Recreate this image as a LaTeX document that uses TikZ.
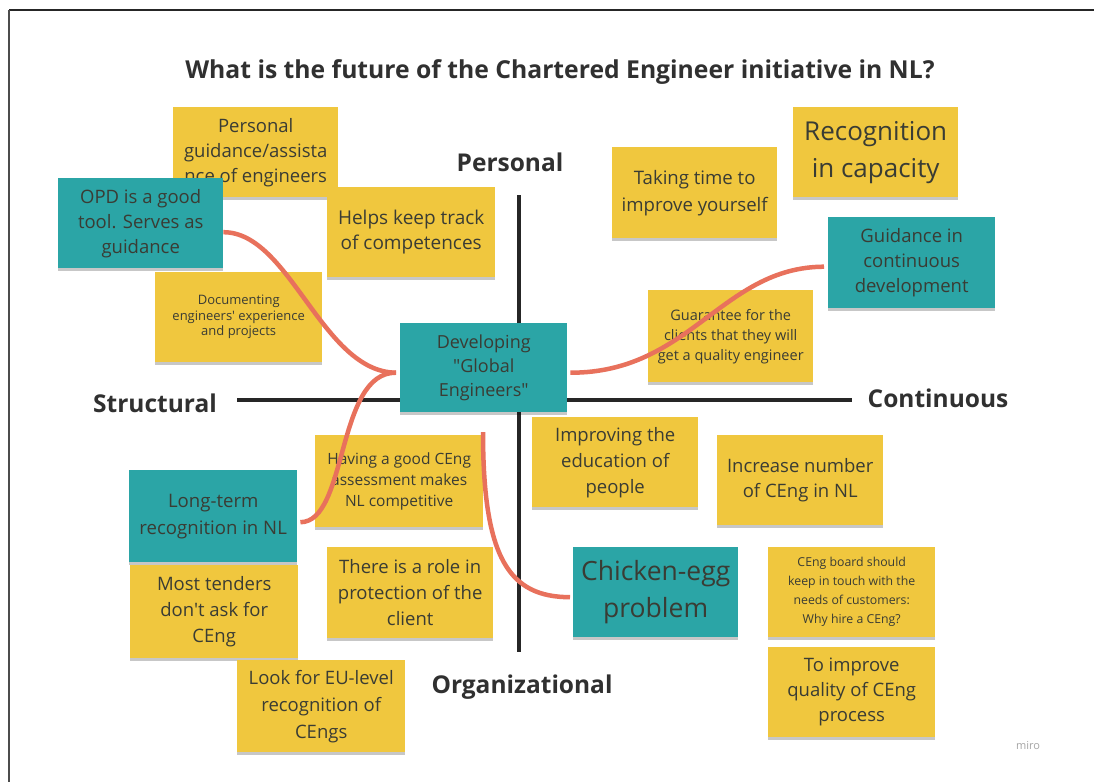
\documentclass[tikz,border=0pt]{standalone}
\usepackage{fontspec}
\setmainfont{Open Sans}
\newfontfamily\plainfont{Open Sans}
\usetikzlibrary{shadows}
\definecolor{stickyY}{RGB}{240,199,62}
\definecolor{stickyT}{RGB}{43,165,166}
\definecolor{notetext}{RGB}{58,60,52}
\definecolor{headtext}{RGB}{48,48,48}
\definecolor{curvecol}{RGB}{232,113,92}
\definecolor{axiscol}{RGB}{38,38,38}
\newcommand\fsz[2]{\fontsize{#1}{#2}\selectfont}
\begin{document}
\begin{tikzpicture}[x=1pt,y=-1pt,
  note/.style={anchor=north west, inner sep=0pt, align=center, text=notetext,
    drop shadow={shadow xshift=0pt, shadow yshift=-2.5pt, opacity=.22, fill=black}},
  ynote/.style={note, fill=stickyY},
  tnote/.style={note, fill=stickyT},
  axislabel/.style={font=\bfseries\fsz{24.5}{28}, text=headtext, inner sep=0pt},
  axisline/.style={draw=axiscol, line width=4.5pt},
  link/.style={draw=curvecol, line width=4.5pt}]
\useasboundingbox (0,0) rectangle (1094,782);
\fill[white] (0,0) rectangle (1094,782);
% frame
\draw[black!85, line width=1.5pt] (9,10) -- (1094,10);
\draw[black!70, line width=2pt] (9,10) -- (9,782);

% title
\node[font=\bfseries\fsz{24.7}{29}, text=headtext] (title) at (560,72) {What is the future of the Chartered Engineer initiative in NL?};

% axes
\coordinate (axL) at (237,400);
\coordinate (axR) at (852,400);
\coordinate (axT) at (519,195);
\coordinate (axB) at (519,652);
\draw[axisline] (axL) -- (axR);
\draw[axisline] (axT) -- (axB);

\node[axislabel] (lblP) at (510,162) {Personal};
\node[axislabel] (lblS) at (155,403) {Structural};
\node[axislabel] (lblC) at (938,398) {Continuous};
\node[axislabel] (lblO) at (522,687) {Organizational};

% notes, upper left
\node[ynote, minimum width=165pt, minimum height=90pt, font=\fsz{18.5}{25}] (pg) at (173,107) {Personal\\guidance/assista\\nce of engineers};
\node[tnote, minimum width=165pt, minimum height=90pt, font=\fsz{18.5}{25}] (opd) at (58,178) {OPD is a good\\tool. Serves as\\guidance};
\node[ynote, minimum width=168pt, minimum height=90pt, font=\fsz{19}{25}] (hk) at (327,187) {Helps keep track\\of competences};
\node[ynote, minimum width=167pt, minimum height=90pt, font=\plainfont\fsz{13}{15.5}] (doc) at (155,272) {Documenting\\engineers' experience\\and projects};

% notes, upper right
\node[ynote, minimum width=165pt, minimum height=91pt, font=\fsz{18.6}{27}] (tt) at (612,147) {Taking time to\\improve yourself};
\node[ynote, minimum width=165pt, minimum height=90pt, font=\fsz{26}{37}] (rc) at (793,107) {Recognition\\in capacity};
\node[tnote, minimum width=167pt, minimum height=91pt, font=\fsz{18.5}{25}] (gd) at (828,217) {Guidance in\\continuous\\development};
\node[ynote, minimum width=165pt, minimum height=92pt, font=\fsz{14.5}{20}] (gq) at (648,290) {Guarantee for the\\clients that they will\\get a quality engineer};

% notes, lower left
\node[ynote, minimum width=168pt, minimum height=92pt, font=\fsz{15.5}{21}] (hv) at (315,435) {Having a good CEng\\assessment makes\\NL competitive};
\node[tnote, minimum width=168pt, minimum height=92pt, font=\fsz{18.6}{27}] (lt) at (129,470) {Long-term\\recognition in NL};
\node[ynote, minimum width=168pt, minimum height=93pt, font=\plainfont\fsz{18.5}{26}] (mt) at (130,565) {Most tenders\\don't ask for\\CEng};
\node[ynote, minimum width=166pt, minimum height=91pt, font=\fsz{18.5}{26}] (rl) at (327,547) {There is a role in\\protection of the\\client};
\node[ynote, minimum width=168pt, minimum height=92pt, font=\fsz{18.5}{27}] (eu) at (237,660) {Look for EU-level\\recognition of\\CEngs};

% notes, lower right
\node[ynote, minimum width=166pt, minimum height=90pt, font=\fsz{18.5}{26}] (ie) at (532,417) {Improving the\\education of\\people};
\node[ynote, minimum width=166pt, minimum height=90pt, font=\fsz{18.5}{25}] (in) at (717,435) {Increase number\\of CEng in NL};
\node[tnote, minimum width=165pt, minimum height=90pt, font=\fsz{26.5}{37}] (ce) at (573,547) {Chicken-egg\\problem};
\node[ynote, minimum width=167pt, minimum height=90pt, font=\fsz{12.3}{19}] (cb) at (768,547) {CEng board should\\keep in touch with the\\needs of customers:\\Why hire a CEng?};
\node[ynote, minimum width=167pt, minimum height=90pt, font=\fsz{18.5}{25}] (ti) at (768,647) {To improve\\quality of CEng\\process};

% central note
\node[tnote, minimum width=167pt, minimum height=89pt, font=\plainfont\fsz{18}{24}] (dev) at (400,323) {Developing\\"Global\\Engineers"};

% connectors
\coordinate (dstart) at (483,432);
\draw[link] ([yshift=-9pt]opd.east) .. controls (290,232) and (322,372) .. ([xshift=-4pt,yshift=-5pt]dev.west);
\draw[link] ([xshift=3pt,yshift=-6pt]lt.east) .. controls (348,522) and (336,372) .. ([xshift=-4pt,yshift=-5pt]dev.west);
\draw[link] ([xshift=3pt,yshift=-5pt]dev.east) .. controls (690,373) and (722,267) .. ([xshift=-4pt,yshift=-4pt]gd.west);
\draw[link] (dstart) .. controls (483,560) and (510,597) .. ([xshift=-3pt,yshift=-5pt]ce.west);

% watermark
\node[font=\fsz{11}{13}, text=black!35] (miro) at (1028,746) {miro};
\end{tikzpicture}
\end{document}
